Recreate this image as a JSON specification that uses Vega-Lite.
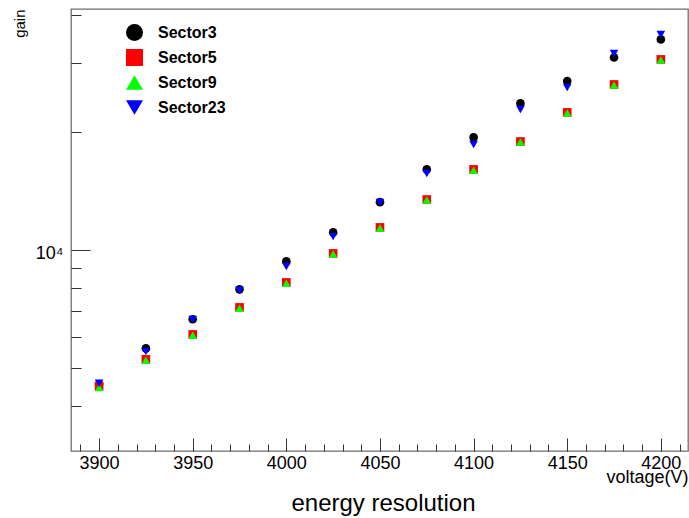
{
  "$schema": "https://vega.github.io/schema/vega-lite/v6.json",
  "width": 617,
  "height": 442,
  "autosize": {"type": "none"},
  "padding": {"left": 71, "top": 9, "right": 1, "bottom": 67},
  "background": "white",
  "data": {
    "values": [
      {"voltage": 3900, "sector": "Sector3", "gain": 4540},
      {"voltage": 3925, "sector": "Sector3", "gain": 5600},
      {"voltage": 3950, "sector": "Sector3", "gain": 6650},
      {"voltage": 3975, "sector": "Sector3", "gain": 7930},
      {"voltage": 4000, "sector": "Sector3", "gain": 9350},
      {"voltage": 4025, "sector": "Sector3", "gain": 11090},
      {"voltage": 4050, "sector": "Sector3", "gain": 13250},
      {"voltage": 4075, "sector": "Sector3", "gain": 16070},
      {"voltage": 4100, "sector": "Sector3", "gain": 19400},
      {"voltage": 4125, "sector": "Sector3", "gain": 23700},
      {"voltage": 4150, "sector": "Sector3", "gain": 27030},
      {"voltage": 4175, "sector": "Sector3", "gain": 31070},
      {"voltage": 4200, "sector": "Sector3", "gain": 34550},
      {"voltage": 3900, "sector": "Sector5", "gain": 4480},
      {"voltage": 3925, "sector": "Sector5", "gain": 5250},
      {"voltage": 3950, "sector": "Sector5", "gain": 6080},
      {"voltage": 3975, "sector": "Sector5", "gain": 7130},
      {"voltage": 4000, "sector": "Sector5", "gain": 8260},
      {"voltage": 4025, "sector": "Sector5", "gain": 9800},
      {"voltage": 4050, "sector": "Sector5", "gain": 11420},
      {"voltage": 4075, "sector": "Sector5", "gain": 13460},
      {"voltage": 4100, "sector": "Sector5", "gain": 16070},
      {"voltage": 4125, "sector": "Sector5", "gain": 18940},
      {"voltage": 4150, "sector": "Sector5", "gain": 22480},
      {"voltage": 4175, "sector": "Sector5", "gain": 26500},
      {"voltage": 4200, "sector": "Sector5", "gain": 30710},
      {"voltage": 3900, "sector": "Sector9", "gain": 4450},
      {"voltage": 3925, "sector": "Sector9", "gain": 5220},
      {"voltage": 3950, "sector": "Sector9", "gain": 6050},
      {"voltage": 3975, "sector": "Sector9", "gain": 7100},
      {"voltage": 4000, "sector": "Sector9", "gain": 8220},
      {"voltage": 4025, "sector": "Sector9", "gain": 9760},
      {"voltage": 4050, "sector": "Sector9", "gain": 11380},
      {"voltage": 4075, "sector": "Sector9", "gain": 13420},
      {"voltage": 4100, "sector": "Sector9", "gain": 16000},
      {"voltage": 4125, "sector": "Sector9", "gain": 18880},
      {"voltage": 4150, "sector": "Sector9", "gain": 22400},
      {"voltage": 4175, "sector": "Sector9", "gain": 26420},
      {"voltage": 4200, "sector": "Sector9", "gain": 30600},
      {"voltage": 3900, "sector": "Sector23", "gain": 4560},
      {"voltage": 3925, "sector": "Sector23", "gain": 5500},
      {"voltage": 3950, "sector": "Sector23", "gain": 6640},
      {"voltage": 3975, "sector": "Sector23", "gain": 7880},
      {"voltage": 4000, "sector": "Sector23", "gain": 9070},
      {"voltage": 4025, "sector": "Sector23", "gain": 10830},
      {"voltage": 4050, "sector": "Sector23", "gain": 13230},
      {"voltage": 4075, "sector": "Sector23", "gain": 15690},
      {"voltage": 4100, "sector": "Sector23", "gain": 18610},
      {"voltage": 4125, "sector": "Sector23", "gain": 22880},
      {"voltage": 4150, "sector": "Sector23", "gain": 26040},
      {"voltage": 4175, "sector": "Sector23", "gain": 31810},
      {"voltage": 4200, "sector": "Sector23", "gain": 35580}
    ]
  },
  "resolve": {"scale": {"x": "shared", "y": "shared"}, "axis": {"x": "independent", "y": "independent"}},
  "layer": [
    {
      "mark": {"type": "point", "opacity": 0},
      "encoding": {
        "x": {
          "field": "voltage", "type": "quantitative",
          "scale": {"domain": [3885, 4214.5], "nice": false, "zero": false},
          "axis": {"orient": "bottom", "values": [3890, 3900, 3910, 3920, 3930, 3940, 3950, 3960, 3970, 3980, 3990, 4000, 4010, 4020, 4030, 4040, 4050, 4060, 4070, 4080, 4090, 4100, 4110, 4120, 4130, 4140, 4150, 4160, 4170, 4180, 4190, 4200, 4210],
                   "labels": false, "ticks": true, "tickSize": 7, "offset": -7, "title": null}
        },
        "y": {
          "field": "gain", "type": "quantitative",
          "scale": {"type": "log", "domain": [3061, 41330], "nice": false},
          "axis": {"orient": "left", "values": [4000, 5000, 6000, 7000, 8000, 9000, 20000, 30000, 40000],
                   "labels": false, "ticks": true, "tickSize": 10, "offset": -10, "title": null}
        }
      }
    },
    {
      "mark": {"type": "point", "opacity": 0},
      "encoding": {
        "x": {
          "field": "voltage", "type": "quantitative",
          "scale": {"domain": [3885, 4214.5], "nice": false, "zero": false},
          "axis": {"orient": "bottom", "values": [3900, 3950, 4000, 4050, 4100, 4150, 4200],
                   "labels": false, "ticks": true, "tickSize": 13, "offset": -13,
                   "title": "energy resolution", "titleFontSize": 24, "titleX": 312, "titleY": 72,
                   "titleAlign": "center", "titleBaseline": "alphabetic"}
        },
        "y": {
          "field": "gain", "type": "quantitative",
          "scale": {"type": "log", "domain": [3061, 41330], "nice": false},
          "axis": {"orient": "left", "values": [10000], "labels": false, "ticks": true, "tickSize": 19, "offset": -19, "title": null}
        }
      }
    },
    {
      "mark": {"type": "point", "filled": true, "size": 75, "opacity": 1},
      "encoding": {
        "x": {
          "field": "voltage", "type": "quantitative",
          "scale": {"domain": [3885, 4214.5], "nice": false, "zero": false},
          "axis": {"orient": "bottom", "values": [3900, 3950, 4000, 4050, 4100, 4150, 4200], "format": "d", "ticks": false,
                   "labelPadding": 17, "labelBaseline": "alphabetic", "labelFontSize": 18, "labelFlush": false,
                   "title": "voltage(V)", "titleFontSize": 18, "titleX": 617, "titleY": 31,
                   "titleAlign": "right", "titleAnchor": "end", "titleBaseline": "alphabetic"}
        },
        "y": {
          "field": "gain", "type": "quantitative",
          "scale": {"type": "log", "domain": [3061, 41330], "nice": false},
          "axis": {"orient": "left", "values": [10000], "ticks": false, "labelExpr": "'10⁴'", "labelPadding": 8,
                   "labelFontSize": 18, "labelBaseline": "alphabetic", "labelOffset": 9, "labelAlign": "right",
                   "title": "gain", "titleFontSize": 15, "titleAngle": 270, "titleX": -47, "titleY": 0,
                   "titleAlign": "right", "titleBaseline": "alphabetic"}
        },
        "color": {
          "field": "sector", "type": "nominal",
          "scale": {"domain": ["Sector3", "Sector5", "Sector9", "Sector23"], "range": ["#000000", "#ff0000", "#00ff00", "#0000ff"]},
          "legend": {"title": null, "orient": "none", "legendX": 55, "legendY": 15}
        },
        "shape": {
          "field": "sector", "type": "nominal",
          "scale": {"domain": ["Sector3", "Sector5", "Sector9", "Sector23"], "range": ["circle", "square", "triangle-up", "triangle-down"]},
          "legend": {"title": null, "orient": "none", "legendX": 55, "legendY": 15}
        }
      }
    }
  ],
  "config": {
    "view": {"stroke": "#6e6e6e", "strokeWidth": 1.3},
    "axis": {
      "domain": false, "grid": false, "tickColor": "#333333", "tickWidth": 1,
      "labelColor": "#000000", "titleColor": "#000000",
      "labelFont": "Liberation Sans", "titleFont": "Liberation Sans", "titleFontWeight": "normal"
    },
    "legend": {
      "labelFont": "Liberation Sans", "labelFontSize": 16, "labelFontWeight": "bold", "labelColor": "#000000",
      "symbolSize": 289, "symbolStrokeWidth": 0, "labelOffset": 15, "rowPadding": 8, "padding": 0
    }
  }
}
